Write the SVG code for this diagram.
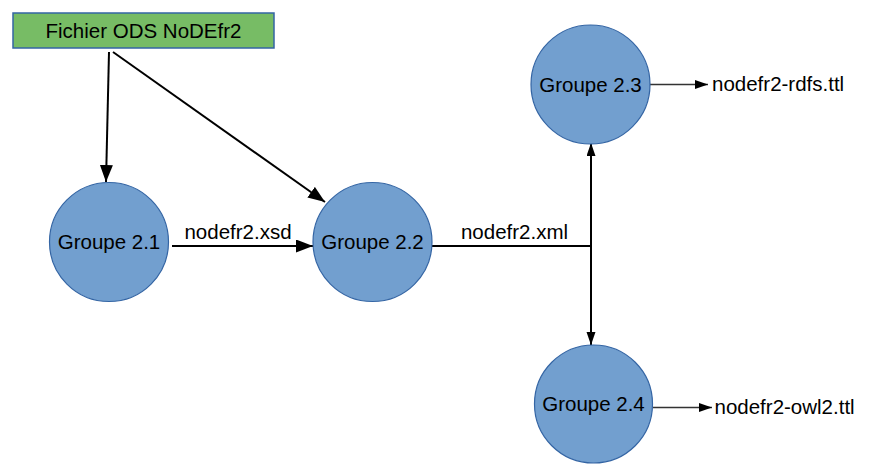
<svg xmlns="http://www.w3.org/2000/svg" width="873" height="476" viewBox="0 0 873 476">
<defs>
<style>
.node{fill:#729fcf;stroke:#3465a4;stroke-width:1.2}
.box{fill:#77bc65;stroke:#3465a4;stroke-width:1.5}
text{font-family:"Liberation Sans",Arial,sans-serif;font-size:20.5px;fill:#000}
.c{text-anchor:middle}
.edge{stroke:#000;stroke-width:2;fill:none}
.thin{stroke:#333;stroke-width:1.4;fill:none}
</style>
<marker id="big" markerUnits="userSpaceOnUse" markerWidth="18" markerHeight="14" refX="17" refY="6.5" orient="auto">
<path d="M0,0 L17,6.5 L0,13 z" fill="#000"/>
</marker>
<marker id="mid" markerUnits="userSpaceOnUse" markerWidth="14" markerHeight="10" refX="13" refY="4.5" orient="auto">
<path d="M0,0 L13,4.5 L0,9 z" fill="#000"/>
</marker>
</defs>
<g id="connectors">
<line class="edge" x1="109" y1="52" x2="106" y2="182" marker-end="url(#big)"/>
<line class="edge" x1="113" y1="52" x2="325" y2="202" marker-end="url(#big)"/>
<line class="edge" x1="172" y1="246" x2="313" y2="246" marker-end="url(#big)"/>
<polyline class="edge" points="432,246 591,246"/>
<line class="edge" x1="591" y1="246" x2="591" y2="143" marker-end="url(#mid)"/>
<line class="edge" x1="591" y1="246" x2="591" y2="345" marker-end="url(#mid)"/>
<line class="thin" x1="650" y1="84.5" x2="708" y2="84.5" marker-end="url(#mid)"/>
<line class="thin" x1="653" y1="407.5" x2="712" y2="407.5" marker-end="url(#mid)"/>
<text class="c" x="238" y="239">nodefr2.xsd</text>
<text class="c" x="514.5" y="239">nodefr2.xml</text>
</g>
<g id="fichier">
<rect class="box" x="13" y="13" width="261" height="35"/>
<text class="c" x="143.5" y="38">Fichier ODS NoDEfr2</text>
</g>
<g id="g21">
<circle class="node" cx="109" cy="242" r="59.5"/>
<text class="c" x="109" y="249">Groupe 2.1</text>
</g>
<g id="g22">
<circle class="node" cx="372.5" cy="242" r="59.5"/>
<text class="c" x="372.5" y="249">Groupe 2.2</text>
</g>
<g id="g23">
<circle class="node" cx="590.5" cy="84.5" r="59.5"/>
<text class="c" x="590.5" y="91.5">Groupe 2.3</text>
</g>
<g id="g24">
<circle class="node" cx="593.5" cy="404" r="59"/>
<text class="c" x="593.5" y="411">Groupe 2.4</text>
</g>
<g id="out-rdfs">
<text x="712" y="91">nodefr2-rdfs.ttl</text>
</g>
<g id="out-owl2">
<text x="714.5" y="414">nodefr2-owl2.ttl</text>
</g>
</svg>
